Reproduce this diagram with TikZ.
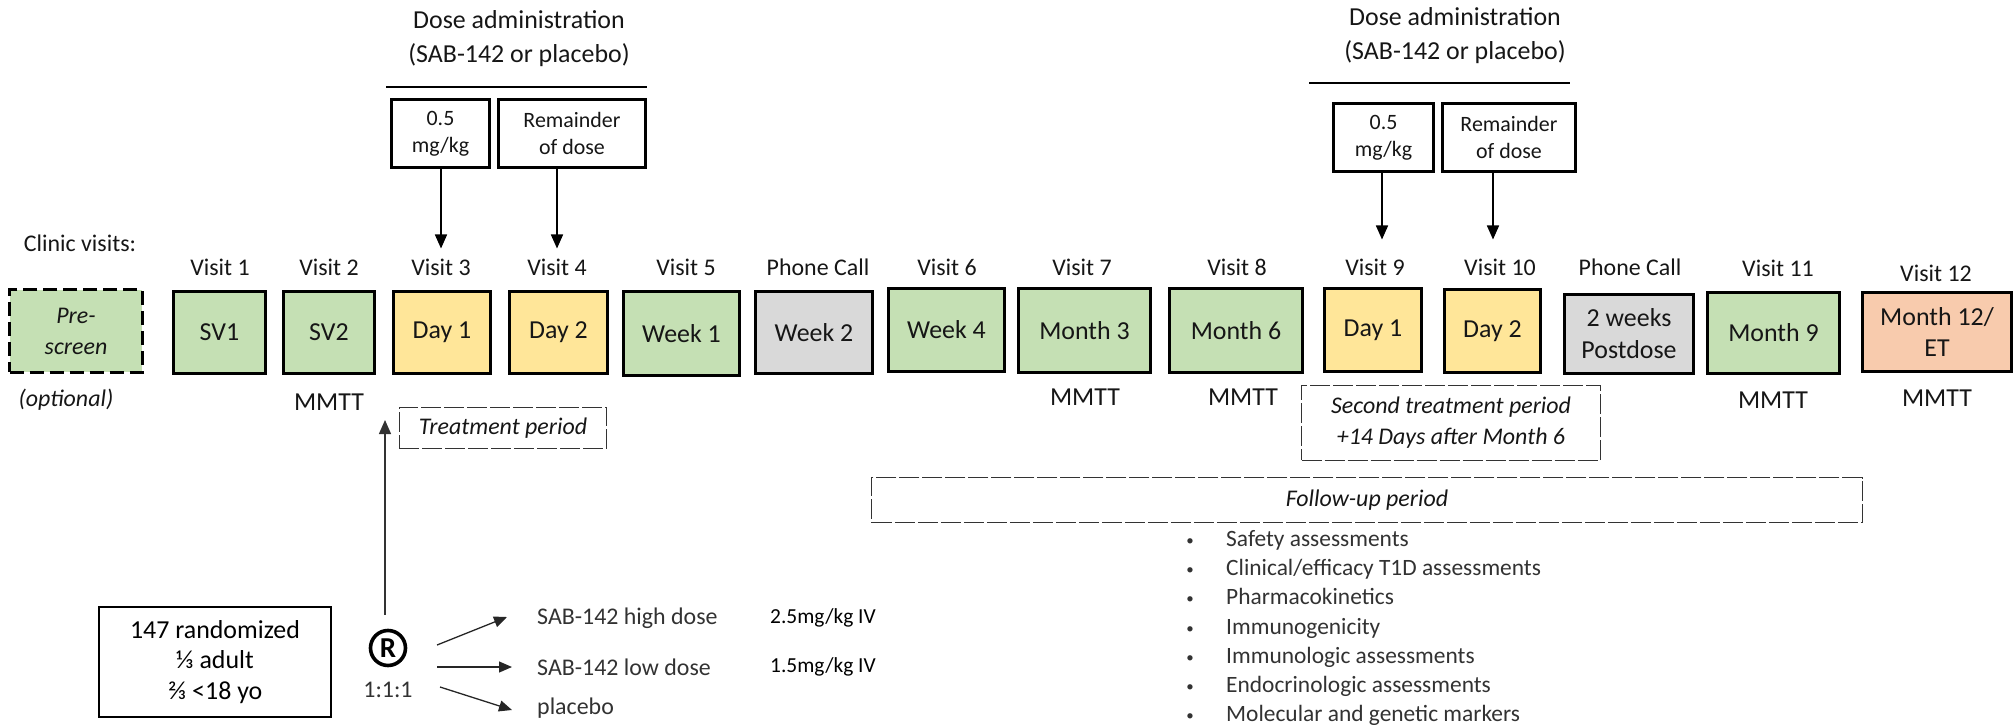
\documentclass[tikz,border=0pt]{standalone}
\usepackage{fontspec}
\setmainfont{Carlito}
\usetikzlibrary{arrows.meta}
\definecolor{gfill}{RGB}{197,224,180}
\definecolor{yfill}{RGB}{255,230,153}
\definecolor{gyfill}{RGB}{217,217,217}
\definecolor{ofill}{RGB}{248,203,173}
\definecolor{txt}{RGB}{22,22,22}
\definecolor{txtg}{RGB}{50,50,50}
\begin{document}
\begin{tikzpicture}[x=1bp,y=-1bp,
  vbox/.style={draw=black, line width=3bp, inner sep=0pt, align=center, text=txt, font=\fontsize{26}{32}\selectfont},
  dbox/.style={draw=black, line width=2.6bp, inner sep=0pt, align=center, text=txt, font=\fontsize{22}{27}\selectfont},
  lab/.style={inner sep=0pt, text=txt, font=\fontsize{24}{28}\selectfont},
  mm/.style={inner sep=0pt, text=txt, font=\fontsize{26}{30}\selectfont},
  per/.style={draw=black!80, line width=1.1bp, dash pattern=on 20bp off 3bp, inner sep=0pt, align=center, text=txt, font=\itshape\fontsize{24}{31}\selectfont},
  arr/.style={line width=1.6bp, -{Triangle[width=12bp,length=14bp]}},
  sarr/.style={line width=1.3bp, draw=black!85, -{Triangle[width=11bp,length=13bp]}},
  rule/.style={line width=1.5bp},
  bul/.style={inner sep=0pt, text=txtg, font=\fontsize{23.5}{28}\selectfont, text height=16bp, text depth=5bp},
]
\useasboundingbox (0,0) rectangle (2016,725);

% header texts and dose boxes
\node[lab, align=center, font=\fontsize{26}{34}\selectfont] (da1) at (519,39) {Dose administration\\(SAB-142 or placebo)};
\draw[rule] (386,87) -- (647,87);
\node[dbox, minimum width=98, minimum height=68] (q1) at (440.5,133.5) {0.5\\mg/kg};
\node[dbox, minimum width=147, minimum height=68] (r1) at (572,133.5) {Remainder\\of dose};

\node[lab, align=center, font=\fontsize{26}{34}\selectfont] (da2) at (1455,36) {Dose administration\\(SAB-142 or placebo)};
\draw[rule] (1309,83) -- (1570,83);
\node[dbox, minimum width=100, minimum height=68] (q2) at (1383.5,137.5) {0.5\\mg/kg};
\node[dbox, minimum width=133, minimum height=68] (r2) at (1509,137.5) {Remainder\\of dose};

% clinic visits
\node[lab] (clin) at (80,243) {Clinic visits:};

\node[vbox, fill=gfill, dash pattern=on 14bp off 6bp, minimum width=133, minimum height=83, font=\itshape\fontsize{24}{31}\selectfont] (pre) at (76,331) {Pre-\\screen};
\node[lab, font=\itshape\fontsize{24}{28}\selectfont] (opt) at (66,400) {(optional)};

\node[vbox, fill=gfill, minimum width=92, minimum height=82] (sv1) at (219.5,332.5) {SV1};
\node[vbox, fill=gfill, minimum width=91, minimum height=82] (sv2) at (329,332.5) {SV2};
\node[vbox, fill=yfill, minimum width=97, minimum height=82] (d1) at (442,332.5) {Day 1};
\node[vbox, fill=yfill, minimum width=98, minimum height=82] (d2) at (558.5,332.5) {Day 2};
\node[vbox, fill=gfill, minimum width=116, minimum height=84] (w1) at (681.5,333.5) {Week 1};
\node[vbox, fill=gyfill, minimum width=117, minimum height=82] (w2) at (814,332.5) {Week 2};
\node[vbox, fill=gfill, minimum width=116, minimum height=83] (w4) at (946.5,330) {Week 4};
\node[vbox, fill=gfill, minimum width=132, minimum height=84] (m3) at (1084.5,330.5) {Month 3};
\node[vbox, fill=gfill, minimum width=133, minimum height=84] (m6) at (1236,330.5) {Month 6};
\node[vbox, fill=yfill, minimum width=97, minimum height=83] (e1) at (1373,330) {Day 1};
\node[vbox, fill=yfill, minimum width=96, minimum height=83] (e2) at (1492.5,331) {Day 2};
\node[vbox, fill=gyfill, minimum width=129, minimum height=79] (pc) at (1629,334) {2 weeks\\Postdose};
\node[vbox, fill=gfill, minimum width=132, minimum height=81] (m9) at (1773.5,333) {Month 9};
\node[vbox, fill=ofill, minimum width=149, minimum height=79] (m12) at (1937,332) {Month 12/\\ET};

\node[lab] (l1) at (220,267) {Visit 1};
\node[lab] (l2) at (329,267) {Visit 2};
\node[lab] (l3) at (441,267) {Visit 3};
\node[lab] (l4) at (557,267) {Visit 4};
\node[lab] (l5) at (686,267) {Visit 5};
\node[lab] (l6) at (818,267) {Phone Call};
\node[lab] (l7) at (947,267) {Visit 6};
\node[lab] (l8) at (1082,267) {Visit 7};
\node[lab] (l9) at (1237,267) {Visit 8};
\node[lab] (l10) at (1375,267) {Visit 9};
\node[lab] (l11) at (1500,267) {Visit 10};
\node[lab] (l12) at (1630,267) {Phone Call};
\node[lab] (l13) at (1778,268) {Visit 11};
\node[lab] (l14) at (1936,273) {Visit 12};

\node[mm] (t1) at (329,402) {MMTT};
\node[mm] (t2) at (1085,397) {MMTT};
\node[mm] (t3) at (1243,397) {MMTT};
\node[mm] (t4) at (1773,400) {MMTT};
\node[mm] (t5) at (1937,398) {MMTT};

% dose arrows
\draw[arr] (q1.south -| l3.north) -- ([yshift=10bp]l3.north);
\draw[arr] (r1.south -| l4.north) -- ([yshift=10bp]l4.north);
\draw[arr] (q2.south -| 1382,0) -- ([yshift=19bp]l10.north -| 1382,0);
\draw[arr] (r2.south -| 1493,0) -- ([yshift=19bp]l11.north -| 1493,0);

% periods
\node[per, minimum width=208, minimum height=41] (tp) at (503,428) {Treatment period};
\node[per, minimum width=300, minimum height=75] (stp) at (1451,423) {Second treatment period\\+14 Days after Month 6};
\node[per, minimum width=994, minimum height=45] (fu) at (1367,500) {Follow-up period};

% assessments
\foreach \t [count=\i] in {Safety assessments, Clinical/efficacy T1D assessments, Pharmacokinetics, Immunogenicity, Immunologic assessments, Endocrinologic assessments, Molecular and genetic markers}{
  \node[bul, anchor=west] (b\i) at (1226,{541+29.2*(\i-1)}) {\t};
  \node[bul, font=\fontsize{15}{16}\selectfont, text height=9bp, text depth=0bp] (d\i) at (1190,{541+29.2*(\i-1)}) {\textbullet};
}

% randomization
\node[draw=black, line width=2bp, minimum width=232, minimum height=110, inner sep=0pt, align=center, text=black, font=\fontsize{26}{30.5}\selectfont] (rand) at (215,662) {147 randomized\\⅓ adult\\⅔ <18 yo};
\node[circle, draw=black, line width=3.6bp, minimum size=35bp, inner sep=0pt, font=\bfseries\fontsize{29}{29}\selectfont] (rr) at (388,648) {R};
\node[lab, text=txtg] (ratio) at (388,690) {1:1:1};
\coordinate (uptip) at (385,420);
\draw[arr, line width=1.3bp, draw=black!80] ([yshift=14bp]rr.north -| 385,0) -- (uptip);

\node[lab, anchor=west, text=txtg] (hi) at (537,618) {SAB-142 high dose};
\node[lab, anchor=west, text=txtg] (lo) at (537,667) {SAB-142 low dose};
\node[lab, anchor=west, text=txtg] (pl) at (537,708) {placebo};
\node[lab, anchor=west, text=black, font=\fontsize{21.5}{26}\selectfont] (hiv) at (770,618) {2.5mg/kg IV};
\node[lab, anchor=west, text=black, font=\fontsize{21.5}{26}\selectfont] (lov) at (770,667) {1.5mg/kg IV};
\coordinate (s1) at (437,645);
\coordinate (s2) at (437,667);
\coordinate (s3) at (440,687);
\draw[sarr] (s1) -- ([xshift=-30bp,yshift=1bp]hi.west);
\draw[sarr] (s2) -- ([xshift=-25bp]lo.west);
\draw[sarr] (s3) -- ([xshift=-25bp,yshift=-2bp]pl.west);
\end{tikzpicture}
\end{document}
